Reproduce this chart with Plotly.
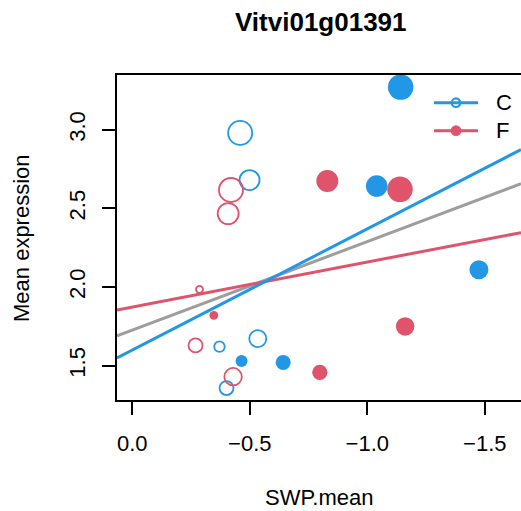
import plotly.graph_objects as go

BLUE = "#2297E6"
RED = "#DF536B"
GRAY = "#9E9E9E"

# Points (SWP.mean, Mean expression, marker diameter)
c_open_x = [-0.459, -0.499, -0.371, -0.534, -0.401]
c_open_y = [2.98, 2.68, 1.621, 1.672, 1.358]
c_open_s = [24, 20, 10.5, 17, 14]

c_fill_x = [-1.142, -1.040, -1.475, -0.465, -0.642]
c_fill_y = [3.271, 2.642, 2.11, 1.53, 1.521]
c_fill_s = [25.5, 21.5, 19, 12, 15]

f_open_x = [-0.420, -0.408, -0.286, -0.269, -0.429]
f_open_y = [2.617, 2.467, 1.985, 1.629, 1.43]
f_open_s = [24, 21, 7, 14, 17.5]

f_fill_x = [-0.830, -1.139, -1.161, -0.798, -0.347]
f_fill_y = [2.674, 2.621, 1.75, 1.458, 1.82]
f_fill_s = [22, 25.5, 18.5, 15.3, 8.7]

# Regression lines: intercept, slope
lines = {
    "all": (1.726, -0.563, GRAY),
    "F": (1.873, -0.286, RED),
    "C": (1.599, -0.771, BLUE),
}

legend_labels = ["C", "F"]
legend_colors = [BLUE, RED]
legend_filled = [False, True]

xrange_ = [0.065, -1.654]
yrange_ = [1.282, 3.348]

# layout geometry (pixels)
W, H = 521, 511
ML, MR, MT, MB = 117, 0, 75, 111
PW, PH = W - ML - MR, H - MT - MB


def px(xp):
    return (xp - ML) / PW


def py(yp):
    return (H - MB - yp) / PH


fig = go.Figure()

for name, (a, b, col) in lines.items():
    xs = xrange_
    ys = [a + b * x for x in xs]
    fig.add_trace(go.Scatter(x=xs, y=ys, mode="lines",
                             line=dict(color=col, width=3), showlegend=False,
                             hoverinfo="skip"))

fig.add_trace(go.Scatter(x=c_open_x, y=c_open_y, mode="markers", showlegend=False,
                         marker=dict(size=c_open_s, color="rgba(0,0,0,0)", opacity=1,
                                     line=dict(color=BLUE, width=1.8))))
fig.add_trace(go.Scatter(x=f_open_x, y=f_open_y, mode="markers", showlegend=False,
                         marker=dict(size=f_open_s, color="rgba(0,0,0,0)", opacity=1,
                                     line=dict(color=RED, width=1.8))))
fig.add_trace(go.Scatter(x=c_fill_x, y=c_fill_y, mode="markers", showlegend=False,
                         marker=dict(size=c_fill_s, color=BLUE, opacity=1,
                                     line=dict(width=0))))
fig.add_trace(go.Scatter(x=f_fill_x, y=f_fill_y, mode="markers", showlegend=False,
                         marker=dict(size=f_fill_s, color=RED, opacity=1,
                                     line=dict(width=0))))

FONT = "Liberation Sans, Arial, Helvetica, sans-serif"

shapes = []
annotations = []
for i, (lab, col, filled) in enumerate(zip(legend_labels, legend_colors, legend_filled)):
    yc = 102.7 + i * 28
    shapes.append(dict(type="line", xref="paper", yref="paper",
                       x0=px(434), x1=px(478), y0=py(yc), y1=py(yc),
                       line=dict(color=col, width=3)))
    r = 4.3
    shapes.append(dict(type="circle", xref="paper", yref="paper",
                       x0=px(456 - r), x1=px(456 + r), y0=py(yc + r), y1=py(yc - r),
                       line=dict(color=col, width=2.2),
                       fillcolor=col if filled else "rgba(0,0,0,0)"))
    annotations.append(dict(text=lab, x=px(494), y=py(yc), xref="paper", yref="paper",
                            xanchor="left", yanchor="middle", showarrow=False,
                            font=dict(size=22)))

annotations += [
    dict(text="<b>Vitvi01g01391</b>", x=px(321), y=py(22), xref="paper", yref="paper",
         xanchor="center", yanchor="middle", showarrow=False,
         font=dict(size=26)),
    dict(text="SWP.mean", x=px(319), y=py(497), xref="paper", yref="paper",
         xanchor="center", yanchor="middle", showarrow=False,
         font=dict(size=22)),
    dict(text="Mean expression", x=px(22), y=py(238), xref="paper", yref="paper",
         xanchor="center", yanchor="middle", textangle=-90,
         showarrow=False, font=dict(size=22)),
]

fig.update_layout(
    width=W, height=H,
    margin=dict(l=ML, r=MR, t=MT, b=MB),
    paper_bgcolor="white", plot_bgcolor="white",
    font=dict(family=FONT, size=22, color="black"),
    showlegend=False,
    xaxis=dict(range=xrange_, tickvals=[0, -0.5, -1.0, -1.5],
               ticktext=["0.0", "\u22120.5", "\u22121.0", "\u22121.5"],
               showgrid=False, zeroline=False, showline=True, mirror=True,
               linecolor="black", linewidth=1.5, ticks="outside", ticklen=13,
               tickwidth=1.5, tickcolor="black", ticklabelstandoff=10,
               tickfont=dict(size=22)),
    yaxis=dict(range=yrange_, tickvals=[1.5, 2.0, 2.5, 3.0],
               ticktext=["1.5", "2.0", "2.5", "3.0"],
               showgrid=False, zeroline=False, showline=True, mirror=False,
               linecolor="black", linewidth=1.5, ticks="outside", ticklen=13,
               tickwidth=1.5, tickcolor="black", tickangle=-90,
               ticklabelstandoff=8, tickfont=dict(size=22)),
    shapes=shapes,
    annotations=annotations,
)

fig.write_html("out.html")
